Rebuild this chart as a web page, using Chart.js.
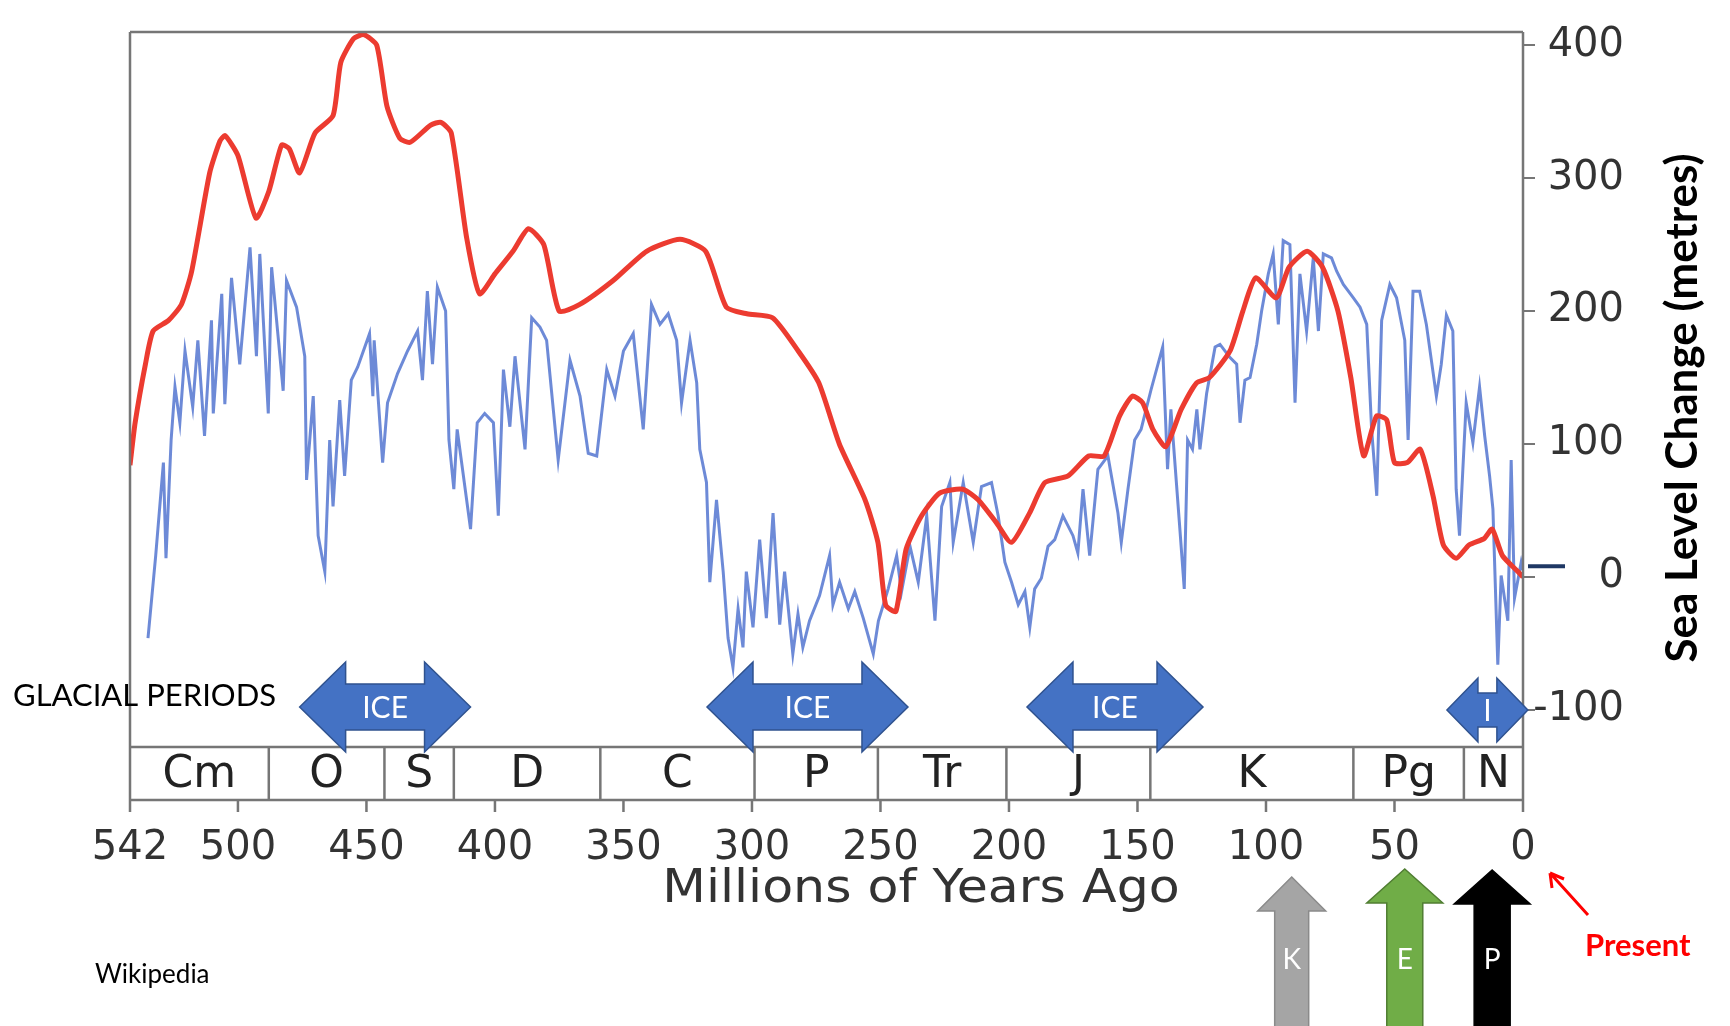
<!DOCTYPE html>
<html>
<head>
<meta charset="utf-8">
<script src="https://cdn.jsdelivr.net/npm/chart.js@4.4.1/dist/chart.umd.min.js"></script>
<style>
  html, body { margin: 0; padding: 0; background: #fff; }
  #c { display: block; }
</style>
</head>
<body>
<canvas id="c" width="1730" height="1026"></canvas>
<script>
// long-term sea level (red), millions of years ago / metres
var redAge = [542,540,536,533,527,522,518,511,507,505,500,493,488,483,480,476,470,463,460,455,451,446,442,437,433,425,421,417,411,406,400,393,387,381,375,367,354,341,328,318,310,302,292,282,274,266,256,251,248,244,240,234,227,218,212,205,199,192,186,177,169,163,157,152,148,144,139,133,127,122,114,109,104,96,91,84,78,72,67,62,57,53,50,45,40,35,31,26,21,15,12,8,2,0];
var redLevel = [84,116,160,185,193,205,230,304,328,332,317,270,290,325,322,304,334,347,387,405,408,400,354,330,327,340,342,334,255,213,228,245,262,250,200,205,223,245,254,245,203,198,195,170,146,100,58,26,-21,-26,21,46,63,66,58,41,26,48,71,76,91,91,121,136,131,111,98,126,146,150,170,200,225,210,233,245,233,200,150,91,121,118,86,86,96,61,24,14,24,29,36,16,4,0];

// short-term sea level (blue)
var blueAge = [535,532,529,528,526,524.5,522.6,520.6,517.6,515.6,513,510.3,509.6,506.3,505.1,502.5,499.3,495.3,492.8,491.5,488.2,486.9,482.4,481.1,477.2,474,473.3,470.7,468.8,466.2,464.3,463,460.4,458.5,455.9,453.4,448.8,447.5,447,443.7,441.8,437.9,434,430.1,428.2,426.3,424.3,422.4,419.2,417.9,416,414.7,409.5,406.9,404,400.6,398.7,396.7,394.2,392.2,388.3,385.7,382.5,379.9,375.4,370.8,366.9,363.7,360.4,356.5,353.3,350,346.2,342.3,339.1,335.8,332.6,329.3,327.4,324.1,321.5,320.3,317.7,316.4,313.8,311.2,309.3,307.4,305.4,303.5,302.2,299.6,297,294.4,291.8,289.2,287.3,284.1,282.1,280.2,277.6,273.7,269.8,268.5,265.9,262.5,260,256.7,252.8,250.8,247,243.7,241.8,238.5,235.3,232,228.8,226.2,223,221.7,217.8,213.9,210.7,206.8,204.2,201.6,199,196.4,193.8,191.9,190,187.4,184.8,182.2,179,175.1,173.2,171.2,168.6,165.4,161.5,157.6,156.3,153.7,151.1,148.6,144.7,140.2,138.3,137,133.7,131.8,130.5,128.6,126.9,125.7,123.1,119.8,117.9,114,111.4,110.1,108.2,106.2,103.6,101.7,99.1,97.2,95.2,93.3,90.7,88.7,86.8,84.2,81.6,79.6,77.7,74.5,72.5,69.9,66,63.4,60.8,58.9,56.9,55,51.8,49.2,46,44.7,42.8,40.2,37.6,33.7,31.8,29.8,27.3,26,24.7,22.1,19.5,16.9,14.9,13,11.7,9.8,8.5,5.9,4.6,3.3,0.7,0];
var blueLevel = [-46,16,86,14,103,143,116,170,128,178,106,193,123,213,130,225,160,248,166,243,123,233,140,223,203,166,73,136,31,4,103,53,133,76,148,158,183,136,178,86,131,153,170,185,148,215,160,218,200,103,66,111,36,116,123,116,46,156,113,166,96,195,188,178,88,163,136,93,91,156,136,170,183,111,205,190,198,178,131,178,146,96,71,-4,58,4,-46,-68,-24,-53,4,-38,28,-31,48,-36,4,-58,-28,-53,-33,-14,16,-21,-4,-24,-11,-31,-58,-33,-9,16,-11,23,-4,46,-33,53,71,26,71,26,68,71,46,11,-4,-21,-11,-38,-9,-1,23,28,46,31,18,66,16,81,91,48,26,66,103,111,141,173,81,126,41,-9,103,96,126,96,138,173,175,165,160,116,148,150,175,200,228,243,190,253,250,131,228,185,240,185,243,240,230,220,210,203,190,111,61,193,220,210,178,103,215,215,190,136,160,197,185,66,31,131,101,143,106,76,51,-66,1,-33,88,-16,11,5];

var xTicks = [542,500,450,400,350,300,250,200,150,100,50,0];
var yTicks = [-100,0,100,200,300,400];

// geological periods (start age, Ma)
var periodNames = ['Cm','O','S','D','C','P','Tr','J','K','Pg','N'];
var periodStarts = [542,488,443,416,359,299,251,201,145,66,23];

// glacial periods drawn as double arrows
var iceFrom = [476,317.5,193,29.6];
var iceTo = [409.5,239.3,124.5,-1.9];
var iceLabels = ['ICE','ICE','ICE','I'];

// event arrows below the axis
var eventAges = [90,46,12];
var eventLabels = ['K','E','P'];
var eventFills = ['#a5a5a5','#70ad47','#000000'];
var eventStrokes = ['#8a8a8a','#507e32','#000000'];

function pts(ages, levels) {
  return ages.map(function(a, i){ return {x: a, y: levels[i]}; });
}

var frameColor = '#767676';

var extras = {
  id: 'extras',
  afterDraw: function(chart) {
    var ctx = chart.ctx, a = chart.chartArea;
    var xs = chart.scales.x, ys = chart.scales.y;
    var bandTop = a.bottom, bandBot = a.bottom + 53;
    ctx.save();

    // frame + period band
    ctx.strokeStyle = frameColor;
    ctx.lineWidth = 2.5;
    ctx.beginPath();
    ctx.moveTo(a.left, a.top); ctx.lineTo(a.right, a.top);
    ctx.moveTo(a.left, a.top); ctx.lineTo(a.left, bandBot + 12);
    ctx.moveTo(a.right, a.top); ctx.lineTo(a.right, bandBot + 12);
    ctx.moveTo(a.left, bandTop); ctx.lineTo(a.right, bandTop);
    ctx.moveTo(a.left, bandBot); ctx.lineTo(a.right, bandBot);
    periodStarts.forEach(function(s, i){
      if (i === 0) return;
      var px = xs.getPixelForValue(s);
      ctx.moveTo(px, bandTop); ctx.lineTo(px, bandBot);
    });
    xTicks.forEach(function(t){
      var px = xs.getPixelForValue(t);
      ctx.moveTo(px, bandBot); ctx.lineTo(px, bandBot + 12);
    });
    ctx.stroke();

    ctx.fillStyle = '#222';
    ctx.font = '44px "DejaVu Sans"';
    ctx.textAlign = 'center';
    ctx.textBaseline = 'middle';
    periodNames.forEach(function(n, i){
      var end = i + 1 < periodStarts.length ? periodStarts[i + 1] : 0;
      var cx = (xs.getPixelForValue(periodStarts[i]) + xs.getPixelForValue(end)) / 2;
      ctx.fillText(n, cx, (bandTop + bandBot) / 2 + 2);
    });

    // x axis title (slightly stretched like the source image)
    ctx.save();
    ctx.translate(921, 890);
    ctx.scale(1.1, 1);
    ctx.fillStyle = '#333';
    ctx.font = '46px "DejaVu Sans"';
    ctx.fillText('Millions of Years Ago', 0, 0);
    ctx.restore();

    // y axis title
    ctx.save();
    ctx.translate(1683, 408);
    ctx.rotate(-Math.PI / 2);
    ctx.fillStyle = '#000';
    ctx.font = 'bold 44px Lato';
    ctx.fillText('Sea Level Change (metres)', 0, 0);
    ctx.restore();

    // navy marker at present sea level
    ctx.strokeStyle = '#1f3864';
    ctx.lineWidth = 4;
    ctx.beginPath();
    var yz = ys.getPixelForValue(8);
    ctx.moveTo(a.right + 5, yz); ctx.lineTo(a.right + 42, yz);
    ctx.stroke();

    // glacial arrows
    iceFrom.forEach(function(f, i){
      var x1 = xs.getPixelForValue(f), x2 = xs.getPixelForValue(iceTo[i]);
      var small = iceLabels[i].length < 2;
      var yc = small ? bandTop - 37 : bandTop - 40;
      var hh = small ? 32 : 45, sh = small ? 17 : 23, hl = small ? 31 : 46;
      ctx.beginPath();
      ctx.moveTo(x1, yc);
      ctx.lineTo(x1 + hl, yc - hh);
      ctx.lineTo(x1 + hl, yc - sh);
      ctx.lineTo(x2 - hl, yc - sh);
      ctx.lineTo(x2 - hl, yc - hh);
      ctx.lineTo(x2, yc);
      ctx.lineTo(x2 - hl, yc + hh);
      ctx.lineTo(x2 - hl, yc + sh);
      ctx.lineTo(x1 + hl, yc + sh);
      ctx.lineTo(x1 + hl, yc + hh);
      ctx.closePath();
      ctx.fillStyle = '#4472c4';
      ctx.fill();
      ctx.strokeStyle = '#2f528f';
      ctx.lineWidth = 1.5;
      ctx.stroke();
      ctx.fillStyle = '#fff';
      ctx.font = '30px Lato';
      ctx.fillText(iceLabels[i], (x1 + x2) / 2, yc + 1);
    });

    // left-side notes
    ctx.fillStyle = '#000';
    ctx.textAlign = 'left';
    ctx.font = '31px Lato';
    ctx.fillText('GLACIAL PERIODS', 13, 696);
    ctx.font = '26px Lato';
    ctx.fillText('Wikipedia', 95, 975);

    // event arrows
    var tips = [877, 869, 870], heads = [34, 38, 38], shafts = [17, 18, 18];
    eventAges.forEach(function(t, i){
      var cx = xs.getPixelForValue(t), tip = tips[i], base = tip + 34;
      ctx.beginPath();
      ctx.moveTo(cx, tip);
      ctx.lineTo(cx + heads[i], base);
      ctx.lineTo(cx + shafts[i], base);
      ctx.lineTo(cx + shafts[i], 1040);
      ctx.lineTo(cx - shafts[i], 1040);
      ctx.lineTo(cx - shafts[i], base);
      ctx.lineTo(cx - heads[i], base);
      ctx.closePath();
      ctx.fillStyle = eventFills[i];
      ctx.fill();
      ctx.strokeStyle = eventStrokes[i];
      ctx.lineWidth = 1.5;
      ctx.stroke();
      ctx.fillStyle = '#fff';
      ctx.textAlign = 'center';
      ctx.font = '28px Lato';
      ctx.fillText(eventLabels[i], cx, 960);
    });

    // present marker
    ctx.strokeStyle = '#ff0000';
    ctx.fillStyle = '#ff0000';
    ctx.lineWidth = 3;
    var ax = a.right + 27, ay = 873;
    ctx.beginPath();
    ctx.moveTo(a.right + 65, 915); ctx.lineTo(ax, ay);
    ctx.moveTo(ax, ay); ctx.lineTo(ax + 2, ay + 15);
    ctx.moveTo(ax, ay); ctx.lineTo(ax + 14, ay + 6);
    ctx.stroke();
    ctx.textAlign = 'left';
    ctx.font = 'bold 31px Lato';
    ctx.fillText('Present', a.right + 62, 946);

    ctx.restore();
  }
};

new Chart(document.getElementById('c'), {
  type: 'line',
  data: {
    datasets: [
      {
        label: 'Long-term',
        data: pts(redAge, redLevel),
        borderColor: '#ec3b30',
        borderWidth: 5,
        tension: 0.2,
        order: 0
      },
      {
        label: 'Short-term',
        data: pts(blueAge, blueLevel),
        borderColor: 'rgba(84,118,208,0.85)',
        borderWidth: 3,
        tension: 0,
        order: 1
      }
    ]
  },
  options: {
    responsive: false,
    animation: false,
    devicePixelRatio: 1,
    layout: { padding: { left: 130, top: 25, right: 106, bottom: 0 } },
    plugins: { legend: { display: false }, tooltip: { enabled: false } },
    elements: { point: { radius: 0 } },
    scales: {
      x: {
        type: 'linear', reverse: true, min: 0, max: 542,
        afterBuildTicks: function(s){ s.ticks = xTicks.map(function(v){ return {value: v}; }); },
        afterFit: function(s){ s.height = 279; },
        grid: { display: false, drawTicks: false },
        border: { display: false },
        ticks: { padding: 78, autoSkip: false, maxRotation: 0, color: '#333', font: { family: 'DejaVu Sans', size: 40 } }
      },
      y: {
        position: 'right', min: -128, max: 410,
        afterBuildTicks: function(s){ s.ticks = yTicks.map(function(v){ return {value: v}; }); },
        afterFit: function(s){ s.width = 101; },
        grid: { drawOnChartArea: false, drawTicks: true, tickLength: 12, color: frameColor, lineWidth: 2 },
        border: { display: false },
        ticks: { padding: 8, crossAlign: 'far', color: '#333', font: { family: 'DejaVu Sans', size: 40 } }
      }
    }
  },
  plugins: [extras]
});
</script>
</body>
</html>
